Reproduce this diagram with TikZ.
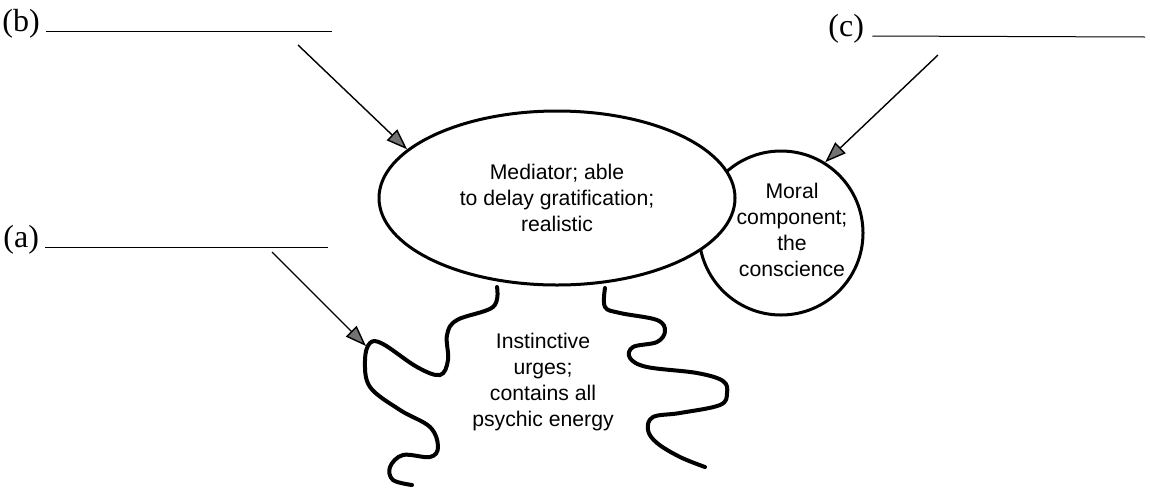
\documentclass[tikz,border=0pt]{standalone}
\usepackage{fontspec}
\setmainfont{Liberation Serif}
\setsansfont{Liberation Sans}
\usetikzlibrary{calc,arrows.meta,shapes,positioning}

\begin{document}
\begin{tikzpicture}[x=0.5pt, y=-0.5pt,
	blank/.style={font=\fontsize{16}{18}\selectfont, anchor=base west, inner sep=0pt},
	pointer/.style={line width=0.7pt, -{Triangle[length=10.5pt, width=7.5pt, fill=black!55]}},
	wiggle/.style={line width=2pt, line cap=round, line join=round},
	part/.style={font=\sffamily\fontsize{10.6}{13}\selectfont, align=center}]
	\useasboundingbox (0,0) rectangle (1150,488);

	% superego behind, ego in front
	\node (superego) at (781,233) [circle, draw, line width=1.5pt, minimum size=82pt, inner sep=0pt] {};
	\node (ego) at (557,198) [ellipse, draw, fill=white, line width=1.5pt, minimum width=178pt, minimum height=87pt, inner sep=0pt, part] {Mediator; able\\to delay gratification;\\realistic};
	\node (superegotxt) at (792,230) [part] {Moral\\component;\\the\\conscience};
	\node (idtxt) at (543,382) [part] {Instinctive\\urges;\\contains all\\psychic energy};

	% the id
	\draw[wiggle] plot[smooth, tension=0.6] coordinates {(497,287) (493,307) (457,320) (447,335) (448,360) (440,375) (417,367) (383,344) (370,343) (365,360) (370,387) (400,410) (430,427) (438,447) (430,457) (403,455) (390,467) (393,480) (412,485)};
	\draw[wiggle] plot[smooth, tension=0.6] coordinates {(605,288) (605,307) (620,313) (657,320) (665,331) (657,342) (633,347) (630,358) (647,367) (697,373) (723,381) (727,393) (720,405) (680,413) (653,417) (648,430) (657,443) (680,457) (705,467)};
	\coordinate (idtip) at (366,346);

	% blanks
	\node (b) at (2,31) [blank] {(b)};
	\coordinate (bend) at (332,31);
	\draw[line width=0.5pt] ([xshift=3pt]b.base east) -- (bend);
	\node (a) at (3,247) [blank] {(a)};
	\coordinate (aend) at (328,247);
	\draw[line width=0.5pt] ([xshift=3pt]a.base east) -- (aend);
	\node (c) at (828,36) [blank] {(c)};
	\coordinate (cend) at (1145,37);
	\draw[line width=0.5pt] ([xshift=4pt]c.base east) -- (cend);

	\coordinate (bfrom) at (298,45);
	\coordinate (afrom) at (272,252);
	\coordinate (cfrom) at (938,55);
	\draw[pointer] (bfrom) -- (ego.162);
	\draw[pointer] (afrom) -- (idtip);
	\draw[pointer] (cfrom) -- (superego.58);
\end{tikzpicture}
\end{document}
